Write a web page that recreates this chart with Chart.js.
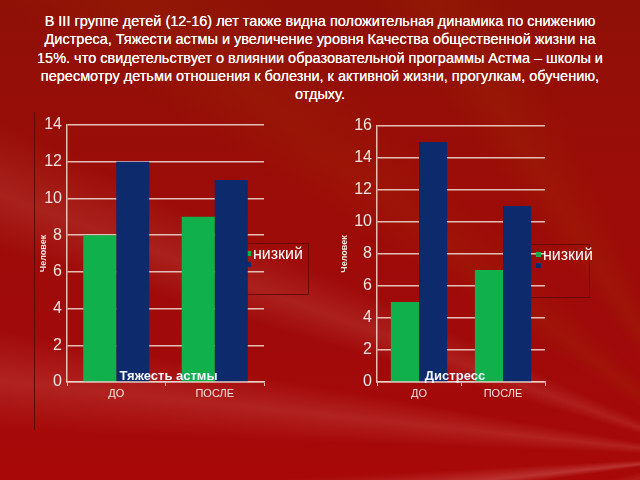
<!DOCTYPE html>
<html>
<head>
<meta charset="utf-8">
<script src="https://cdn.jsdelivr.net/npm/chart.js@4.4.1/dist/chart.umd.min.js"></script>
<style>
  html, body { margin: 0; padding: 0; }
  body {
    width: 640px; height: 480px; position: relative; overflow: hidden;
    background:
      conic-gradient(from 250deg at 112% 95%,
        rgba(255,190,170,0) 0deg, rgba(255,190,170,0.10) 4deg, rgba(255,190,170,0) 8deg,
        rgba(255,190,170,0) 12deg, rgba(255,200,190,0.22) 14deg, rgba(255,190,170,0) 17deg,
        rgba(255,190,170,0) 22deg, rgba(255,190,170,0.14) 26deg, rgba(255,190,170,0) 30deg,
        rgba(255,190,170,0) 36deg, rgba(255,190,170,0.12) 40deg, rgba(255,190,170,0) 45deg,
        rgba(255,190,170,0) 52deg, rgba(160,60,0,0.18) 58deg, rgba(160,60,0,0) 66deg,
        rgba(160,60,0,0) 72deg, rgba(160,60,0,0.2) 78deg, rgba(160,60,0,0) 86deg, rgba(160,60,0,0) 360deg),
      linear-gradient(180deg, #8e1006 0%, #9c0c08 40%, #a00a0a 70%, #a80808 100%);
    font-family: "Liberation Sans", Arial, sans-serif;
  }
  #title {
    position: absolute; left: 0; top: 12px; width: 640px; text-align: center;
    color: #ffffff; font-weight: normal; font-size: 14.5px; line-height: 18.3px;
    text-shadow: 0 0 0.4px #ffffff;
  }
  #vline { position: absolute; left: 34px; top: 112px; width: 1px; height: 318px; background: #5c0a06; }
  #c1wrap { position: absolute; left: 34px; top: 100px; width: 286px; height: 320px; }
  #c2wrap { position: absolute; left: 335px; top: 100px; width: 305px; height: 320px; }
</style>
</head>
<body>
<div id="title">В III группе детей (12-16) лет также видна положительная динамика по снижению<br>Дистреса, Тяжести астмы и увеличение уровня Качества общественной жизни на<br>15%. что свидетельствует о влиянии образовательной программы Астма – школы и<br>пересмотру детьми отношения к болезни, к активной жизни, прогулкам, обучению,<br>отдыху.</div>
<div id="vline"></div>
<div id="c1wrap"><canvas id="c1" width="286" height="320"></canvas></div>
<div id="c2wrap"><canvas id="c2" width="305" height="320"></canvas></div>
<script>
const categories = ["ДО", "ПОСЛЕ"];
const seriesNames = ["низкий", "высокий"];
const asthmaLow = [8, 9];
const asthmaHigh = [12, 11];
const distressLow = [5, 7];
const distressHigh = [15, 11];
const asthmaTicks = { max: 14, step: 2 };
const distressTicks = { max: 16, step: 2 };
const chartTitles = ["Тяжесть астмы", "Дистресс"];
const axisTitle = "Человек";

const GREEN = "#10b04c";
const BLUE = "#0c2a6c";
const GRID = "rgba(235,210,200,0.9)";
const TICKC = "#f2e4e0";

const overlayPlugin = {
  id: "overlay",
  beforeDatasetsDraw(chart, args, opts) {
    const ctx = chart.ctx;
    const lg = opts.legend;
    ctx.save();
    ctx.strokeStyle = "#6a0806";
    ctx.lineWidth = 1;
    ctx.strokeRect(lg.x + 0.5, lg.y + 0.5, lg.w, lg.h);
    ctx.fillStyle = GREEN;
    ctx.fillRect(lg.x + 6, lg.y + 8, 5, 5);
    ctx.fillStyle = BLUE;
    ctx.fillRect(lg.x + 6, lg.y + 19, 5, 5);
    ctx.fillStyle = "#ffffff";
    ctx.font = "16px 'Liberation Sans', Arial, sans-serif";
    ctx.textBaseline = "middle";
    ctx.fillText(chart.data.datasets[0].label, lg.x + 13, lg.y + 12);
    ctx.restore();
  },
  afterDatasetsDraw(chart, args, opts) {
    const ctx = chart.ctx;
    const a = chart.chartArea;
    ctx.save();
    ctx.fillStyle = "#f4f6ff";
    ctx.font = "bold 13px 'Liberation Sans', Arial, sans-serif";
    ctx.textAlign = "center";
    ctx.textBaseline = "alphabetic";
    ctx.fillText(opts.title, (a.left + a.right) / 2 + opts.dx, a.bottom - 2);
    ctx.restore();
  }
};

function makeChart(id, low, high, tickCfg, yWidth, pad, title, dx, legend) {
  new Chart(document.getElementById(id), {
    type: "bar",
    data: {
      labels: categories,
      datasets: [
        { label: seriesNames[0], data: low, backgroundColor: GREEN, borderWidth: 0 },
        { label: seriesNames[1], data: high, backgroundColor: BLUE, borderWidth: 0 }
      ]
    },
    options: {
      responsive: false,
      animation: false,
      devicePixelRatio: 1,
      layout: { padding: pad },
      datasets: { bar: { categoryPercentage: 0.67, barPercentage: 1.0 } },
      plugins: {
        legend: { display: false },
        tooltip: { enabled: false },
        overlay: { title: title, dx: dx, legend: legend }
      },
      scales: {
        x: {
          grid: { display: true, drawOnChartArea: false, drawTicks: true, tickLength: 4, color: GRID, lineWidth: 1 },
          border: { display: true, color: GRID, width: 1.5 },
          ticks: { color: TICKC, font: { size: 11, family: "'Liberation Sans', Arial, sans-serif" }, padding: 1 },
          afterFit(s) { s.height = 38; }
        },
        y: {
          min: 0, max: tickCfg.max,
          grid: { color: GRID, lineWidth: 1.5, drawTicks: false },
          border: { display: true, color: GRID, width: 1.5 },
          ticks: { stepSize: tickCfg.step, color: TICKC, padding: 5, font: { size: 16, family: "'Liberation Sans', Arial, sans-serif" } },
          title: { display: true, text: axisTitle, color: "#f4e8e4", padding: { top: 4, bottom: 0 }, font: { size: 9, weight: "bold", family: "'Liberation Sans', Arial, sans-serif" } },
          afterFit(s) { s.width = yWidth; }
        }
      }
    },
    plugins: [overlayPlugin]
  });
}

makeChart("c1", asthmaLow, asthmaHigh, asthmaTicks, 33, { top: 25, right: 56, bottom: 0, left: 0 }, chartTitles[0], 3,
  { x: 206, y: 143, w: 68, h: 51 });
makeChart("c2", distressLow, distressHigh, distressTicks, 42, { top: 26, right: 95, bottom: 0, left: 0 }, chartTitles[1], -6,
  { x: 195, y: 144, w: 59, h: 53 });
</script>
</body>
</html>
